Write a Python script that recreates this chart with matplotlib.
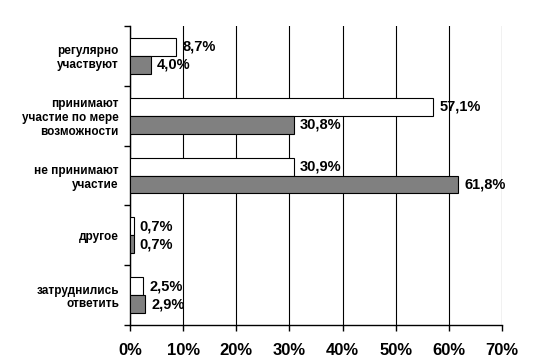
import matplotlib.pyplot as plt
import numpy as np

plt.rcParams['font.family'] = ['Liberation Sans', 'DejaVu Sans']
plt.rcParams['font.weight'] = 'bold'

categories = ['регулярно\nучаствуют', 'принимают\nучастие по мере\nвозможности',
              'не принимают\nучастие', 'другое', 'затруднились\nответить']
white_vals = [8.7, 57.1, 30.9, 0.7, 2.5]
grey_vals = [4.0, 30.8, 61.8, 0.7, 2.9]
xticks = [0, 10, 20, 30, 40, 50, 60, 70]

fig = plt.figure(figsize=(5.38, 3.64), dpi=100)
ax = fig.add_axes([130/538, 39/364, 372/538, 299/364])

y = np.arange(len(categories))
h = 0.3
ax.barh(y - h/2, white_vals, height=h, color='white', edgecolor='black', linewidth=0.8, zorder=3)
ax.barh(y + h/2, grey_vals, height=h, color='#808080', edgecolor='black', linewidth=0.8, zorder=3)

def fmt(v):
    return f'{v:.1f}%'.replace('.', ',')

for yi, v in zip(y, white_vals):
    ax.text(v + 1.1, yi - h/2, fmt(v), va='center', ha='left', fontsize=10.5, fontweight='bold', zorder=4)
for yi, v in zip(y, grey_vals):
    ax.text(v + 1.1, yi + h/2, fmt(v), va='center', ha='left', fontsize=10.5, fontweight='bold', zorder=4)

ax.set_xlim(0, 70)
ax.set_ylim(len(categories) - 0.5, -0.5)
ax.set_xticks(xticks)
ax.set_xticklabels([f'{t}%' for t in xticks], fontsize=12, fontweight='bold')
ax.tick_params(axis='x', length=4, width=1, pad=9, direction='out')
ax.xaxis.grid(True, color='black', linewidth=0.8, zorder=0)

ax.set_yticks(np.arange(len(categories) + 1) - 0.5)
ax.set_yticklabels([])
ax.set_yticks(y, minor=True)
ax.set_yticklabels(categories, minor=True, fontsize=8.5, fontweight='bold', ha='right', multialignment='right')
ax.tick_params(axis='y', which='major', length=4, width=1, direction='out')
ax.tick_params(axis='y', which='minor', length=0, pad=8)

ax.spines['top'].set_visible(False)
ax.spines['right'].set_visible(False)
ax.spines['left'].set_linewidth(1)
ax.spines['bottom'].set_linewidth(1)

fig.savefig('out.png', dpi=100)
